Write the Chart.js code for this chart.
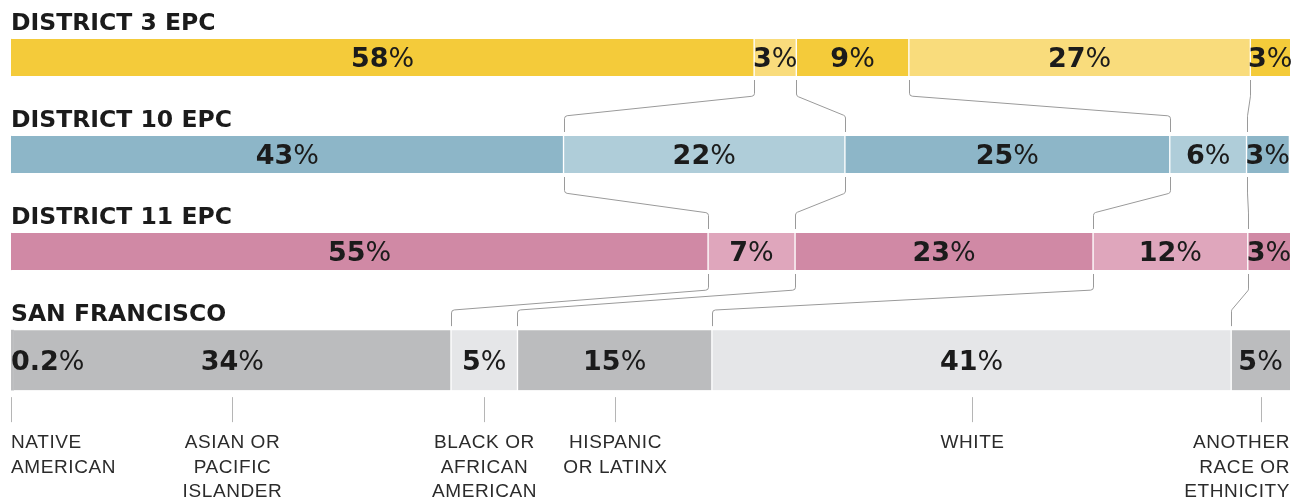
<!DOCTYPE html>
<html>
<head>
<meta charset="utf-8">
<script src="https://cdn.jsdelivr.net/npm/chart.js@4.4.1/dist/chart.umd.min.js"></script>
<style>
  html, body { margin: 0; padding: 0; background: #fff; }
  #wrap { width: 1305px; height: 502px; position: relative; }
</style>
</head>
<body>
<div id="wrap"><canvas id="chart"></canvas></div>
<script>
// Race / ethnicity groups, in bar order (one entry per label line)
const categories = [
    ['NATIVE', 'AMERICAN'],
    ['ASIAN OR', 'PACIFIC', 'ISLANDER'],
    ['BLACK OR', 'AFRICAN', 'AMERICAN'],
    ['HISPANIC', 'OR LATINX'],
    ['WHITE'],
    ['ANOTHER', 'RACE OR', 'ETHNICITY']
];

const rowTitles = ['DISTRICT 3 EPC', 'DISTRICT 10 EPC', 'DISTRICT 11 EPC', 'SAN FRANCISCO'];

// Share of residents (%), same order as categories
const district3 = [0, 58.1, 3.3, 8.8, 26.7, 3.1];
const district10 = [0, 43.2, 22.0, 25.4, 6.0, 3.3];
const district11 = [0, 54.5, 6.8, 23.3, 12.1, 3.3];
const sanFrancisco = [0.2, 34.2, 5.2, 15.2, 40.6, 4.6];

const rowValues = [district3, district10, district11, sanFrancisco];

// Layout: row slots on the y scale (SF bar is taller, so it sits a bit lower)
const rowSlots = [0, 1, 2, 3.12];

// dark / light colour per row, alternating by group
const palettes = [
    ['#f4cb3a', '#f9dc7c'],
    ['#8db6c8', '#afcdd9'],
    ['#d089a5', '#dfa6bc'],
    ['#bbbcbe', '#e5e6e8']
];
const shade = [0, 0, 1, 0, 1, 0];

const FONT = '"Liberation Sans", Arial, sans-serif';
const NUM_FONT = '"DejaVu Sans", sans-serif';
const last = categories.length - 1;

function fmt(v) {
    return v < 1 ? v.toFixed(1) : String(Math.round(v));
}

// white gaps between segments, none at the outer ends
function borders(k) {
    return { left: k <= 1 ? 0 : 1, right: (k === 0 || k === last) ? 0 : 1, top: 0, bottom: 0 };
}

// Build datasets: one per group for the three districts, one per group for SF
const datasets = [];
categories.forEach((cat, k) => {
    datasets.push({
        label: cat.join(' '),
        data: [0, 1, 2].map(r => ({ x: rowValues[r][k], y: rowSlots[r] })),
        backgroundColor: ctx => palettes[ctx.dataIndex][shade[k]],
        borderWidth: borders(k),
        barThickness: 37
    });
});
categories.forEach((cat, k) => {
    datasets.push({
        label: 'SF ' + cat.join(' '),
        data: [{ x: sanFrancisco[k], y: rowSlots[3] }],
        backgroundColor: palettes[3][shade[k]],
        borderWidth: borders(k),
        barThickness: 60
    });
});

function barFor(chart, row, k) {
    if (row < 3) return chart.getDatasetMeta(k).data[row];
    return chart.getDatasetMeta(6 + k).data[0];
}

const overlay = {
    id: 'overlay',
    afterDatasetsDraw(chart) {
        const ctx = chart.ctx;
        ctx.save();

        // row titles
        ctx.fillStyle = '#1b1b1b';
        ctx.font = 'bold 23.5px ' + NUM_FONT;
        ctx.textAlign = 'left';
        ctx.textBaseline = 'alphabetic';
        rowTitles.forEach((t, r) => {
            const b = barFor(chart, r, 1);
            ctx.fillText(t, chart.chartArea.left, b.y - b.height / 2 - 9);
        });

        // value labels: bold number, lighter percent sign
        const size = 27;
        rowValues.forEach((vals, r) => {
            vals.forEach((v, k) => {
                if (!v) return;
                const b = barFor(chart, r, k);
                const num = fmt(v);
                ctx.font = 'bold ' + size + 'px ' + NUM_FONT;
                const wNum = ctx.measureText(num).width;
                ctx.font = size + 'px ' + NUM_FONT;
                const wPct = ctx.measureText('%').width;
                const total = wNum + wPct;
                const x0 = k === 0 ? b.base : (b.base + b.x) / 2 - total / 2;
                const yb = Math.round(b.y + size * 0.729 / 2);
                ctx.fillStyle = '#1b1b1b';
                ctx.textAlign = 'left';
                ctx.font = 'bold ' + size + 'px ' + NUM_FONT;
                ctx.fillText(num, x0, yb);
                ctx.font = size + 'px ' + NUM_FONT;
                ctx.fillText('%', x0 + wNum, yb);
            });
        });

        // connectors between rows at group boundaries
        ctx.strokeStyle = '#9a9a9a';
        ctx.lineWidth = 1;
        ctx.lineJoin = 'round';
        for (let r = 0; r < 3; r++) {
            for (let k = 2; k < categories.length; k++) {
                const a = barFor(chart, r, k);
                const b = barFor(chart, r + 1, k);
                const yBot = a.y + a.height / 2;
                const yTop = b.y - b.height / 2;
                const xa = Math.round(a.base) + 0.5;
                const xb = Math.round(b.base) + 0.5;
                ctx.beginPath();
                ctx.moveTo(xa, yBot + 4);
                ctx.arcTo(xa, yBot + 20, xb, yTop - 20, 3);
                ctx.arcTo(xb, yTop - 20, xb, yTop - 4, 3);
                ctx.lineTo(xb, yTop - 4);
                ctx.stroke();
            }
        }

        // ticks and group names under the SF bar
        ctx.strokeStyle = '#b5b5b5';
        ctx.fillStyle = '#2b2b2b';
        ctx.font = '19px ' + FONT;
        ctx.letterSpacing = '0.6px';
        categories.forEach((lines, k) => {
            const b = barFor(chart, 3, k);
            const bottom = b.y + b.height / 2;
            const cx = k === 0 ? Math.round(b.base) + 0.5 : Math.round((b.base + b.x) / 2) + 0.5;
            ctx.beginPath();
            ctx.moveTo(cx, bottom + 7);
            ctx.lineTo(cx, bottom + 32);
            ctx.stroke();
            let tx = cx;
            if (k === 0) { ctx.textAlign = 'left'; tx = b.base; }
            else if (k === last) { ctx.textAlign = 'right'; tx = b.x; }
            else ctx.textAlign = 'center';
            lines.forEach((line, i) => {
                ctx.fillText(line, tx, bottom + 58 + i * 24.5);
            });
        });
        ctx.restore();
    }
};

new Chart(document.getElementById('chart'), {
    type: 'bar',
    data: { datasets },
    options: {
        indexAxis: 'y',
        responsive: true,
        maintainAspectRatio: false,
        animation: false,
        layout: { padding: { left: 11, right: 15, top: 0, bottom: 0 } },
        datasets: {
            bar: {
                borderColor: '#ffffff',
                borderSkipped: false
            }
        },
        scales: {
            x: { type: 'linear', stacked: true, min: 0, max: 100, offset: false, display: false },
            y: { type: 'linear', stacked: true, reverse: true, offset: false, min: -0.5928, max: 4.5825, display: false }
        },
        plugins: {
            legend: { display: false },
            tooltip: { enabled: false }
        }
    },
    plugins: [overlay]
});
</script>
</body>
</html>
